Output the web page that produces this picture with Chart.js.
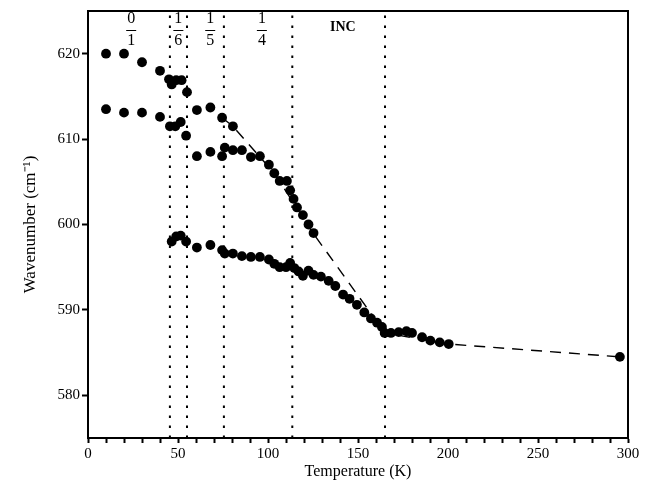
<!DOCTYPE html>
<html>
<head>
<meta charset="utf-8">
<script src="https://cdn.jsdelivr.net/npm/chart.js@4"></script>
<style>
  body { margin: 0; background: #fff; }
  canvas { display: block; }
</style>
</head>
<body>
<canvas id="chartArea" width="661" height="487"></canvas>
<script>
// Upper branch (0/1 high mode, continues into 1/5 phase)
var upperT = [10, 20, 30, 40, 45, 46.5, 49, 52, 55, 60.5, 68, 74.5, 80.5];
var upperW = [620, 620, 619, 618, 617, 616.4, 616.9, 616.9, 615.5, 613.4, 613.7, 612.5, 611.5];

// Middle branch
var middleT = [10, 20, 30, 40, 45.5, 48.5, 51.5, 54.5, 60.5, 68, 74.5, 76, 80.5, 85.5, 90.5, 95.5,
  100.5, 103.5, 106.5, 110.5, 112.3, 114.2, 116.1, 119.4, 122.5, 125.3];
var middleW = [613.5, 613.1, 613.1, 612.6, 611.5, 611.5, 612.0, 610.4, 608.0, 608.5, 608.0, 609.0,
  608.7, 608.7, 607.9, 608.0, 607.0, 606.0, 605.1, 605.1, 604.0, 603.0, 602.0, 601.1, 600.0, 599.0];

// Lower branch
var lowerT = [46.5, 49, 51.5, 54.5, 60.5, 68, 74.5, 76, 80.5, 85.5, 90.5, 95.5, 100.5, 103.5, 106.5,
  110, 112.3, 114.6, 117, 119.4, 122.5, 125.3, 129.4, 133.7, 137.4, 141.7, 145.3, 149.4, 153.5,
  157.2, 160.6, 163.3, 164.8, 168.3, 172.6, 176.9, 180, 185.6, 190.2, 195.4, 200.4, 295.5];
var lowerW = [598.0, 598.6, 598.7, 598.0, 597.3, 597.6, 597.0, 596.6, 596.6, 596.3, 596.2, 596.2,
  595.9, 595.4, 595.0, 595.0, 595.5, 594.9, 594.5, 594.0, 594.6, 594.1, 593.9, 593.4, 592.8, 591.8,
  591.3, 590.6, 589.7, 589.0, 588.5, 588.0, 587.3, 587.3, 587.4, 587.5, 587.3, 586.8, 586.4, 586.2,
  586.0, 584.5];

// Dashed guide line
var guideT = [74.5, 80.5, 103.5, 125, 165, 200.4, 295.5];
var guideW = [612.5, 611.5, 606.0, 599.0, 587.3, 586.0, 584.5];

// Phase boundaries (K) and phase labels
var boundaryT = [45.5, 55, 75.5, 113.5, 165];
var phaseT = [24, 50.2, 67.9, 96.6];
var phaseNum = ['0', '1', '1', '1'];
var phaseDen = ['1', '6', '5', '4'];
var incT = 141.6;

// Axis ticks
var yTickValues = [580, 590, 600, 610, 620];
var yMin = 575, yMax = 625;

function toPoints(ts, ws) {
  return ts.map(function (t, i) { return { x: t, y: ws[i] }; });
}

var allPoints = toPoints(upperT, upperW)
  .concat(toPoints(middleT, middleW))
  .concat(toPoints(lowerT, lowerW));

var datasets = [{
  data: allPoints,
  backgroundColor: '#000',
  borderWidth: 0,
  pointRadius: 4.9,
  order: 0
}, {
  data: toPoints(guideT, guideW),
  showLine: true,
  borderColor: '#000',
  borderWidth: 1.4,
  borderDash: [11, 8],
  pointRadius: 0,
  order: 1
}];

boundaryT.forEach(function (t) {
  datasets.push({
    data: [{ x: t, y: yMin }, { x: t, y: yMax }],
    showLine: true,
    borderColor: '#000',
    borderWidth: 2,
    borderDash: [2.5, 7.5],
    pointRadius: 0,
    order: 2
  });
});

// Frame and phase labels
var decorPlugin = {
  id: 'decor',
  afterDraw: function (chart) {
    var ctx = chart.ctx;
    var area = chart.chartArea;
    var xs = chart.scales.x;
    ctx.save();
    ctx.strokeStyle = '#000';
    ctx.lineWidth = 2;
    ctx.strokeRect(area.left, area.top, area.right - area.left, area.bottom - area.top);

    ctx.fillStyle = '#000';
    ctx.textAlign = 'center';
    ctx.textBaseline = 'middle';
    ctx.font = '16px "Liberation Serif"';
    phaseT.forEach(function (t, i) {
      var px = xs.getPixelForValue(t);
      ctx.fillText(phaseNum[i], px, area.top + 8);
      ctx.fillText(phaseDen[i], px, area.top + 30);
      ctx.lineWidth = 1;
      ctx.beginPath();
      ctx.moveTo(px - 5, area.top + 19.5);
      ctx.lineTo(px + 5, area.top + 19.5);
      ctx.stroke();
    });
    ctx.font = 'bold 14px "Liberation Serif"';
    ctx.fillText('INC', xs.getPixelForValue(incT), area.top + 16);
    ctx.restore();
  }
};

var ctx = document.getElementById('chartArea').getContext('2d');
var myChart = new Chart(ctx, {
  type: 'scatter',
  data: { datasets: datasets },
  options: {
    responsive: false,
    animation: false,
    devicePixelRatio: 1,
    layout: { padding: { top: 11, right: 33, left: 0, bottom: 0 } },
    plugins: { legend: { display: false }, tooltip: { enabled: false } },
    scales: {
      x: {
        type: 'linear',
        min: 0,
        max: 300,
        afterFit: function (scale) { scale.height = 49; },
        ticks: {
          stepSize: 10,
          autoSkip: false,
          maxRotation: 0,
          padding: 2,
          color: '#000',
          font: { family: 'Liberation Serif', size: 15 },
          callback: function (v) { return v % 50 === 0 ? v : ''; }
        },
        grid: {
          drawOnChartArea: false,
          drawTicks: true,
          tickLength: 5,
          tickWidth: 2,
          tickColor: '#000'
        },
        border: { display: true, color: '#000', width: 2 },
        title: {
          display: true,
          text: 'Temperature (K)',
          color: '#000',
          font: { family: 'Liberation Serif', size: 16 },
          padding: { top: 0, bottom: 6 }
        }
      },
      y: {
        type: 'linear',
        min: yMin,
        max: yMax,
        afterFit: function (scale) { scale.width = 88; },
        afterBuildTicks: function (scale) {
          scale.ticks = yTickValues.map(function (v) { return { value: v }; });
        },
        ticks: {
          padding: 2,
          color: '#000',
          font: { family: 'Liberation Serif', size: 15 }
        },
        grid: {
          drawOnChartArea: false,
          drawTicks: true,
          tickLength: 6,
          tickWidth: 2,
          tickColor: '#000'
        },
        border: { display: true, color: '#000', width: 2 },
        title: {
          display: true,
          text: 'Wavenumber (cm\u207B\u00B9)',
          color: '#000',
          font: { family: 'Liberation Serif', size: 17 },
          padding: { top: 20, bottom: 0 }
        }
      }
    }
  },
  plugins: [decorPlugin]
});
</script>
</body>
</html>
